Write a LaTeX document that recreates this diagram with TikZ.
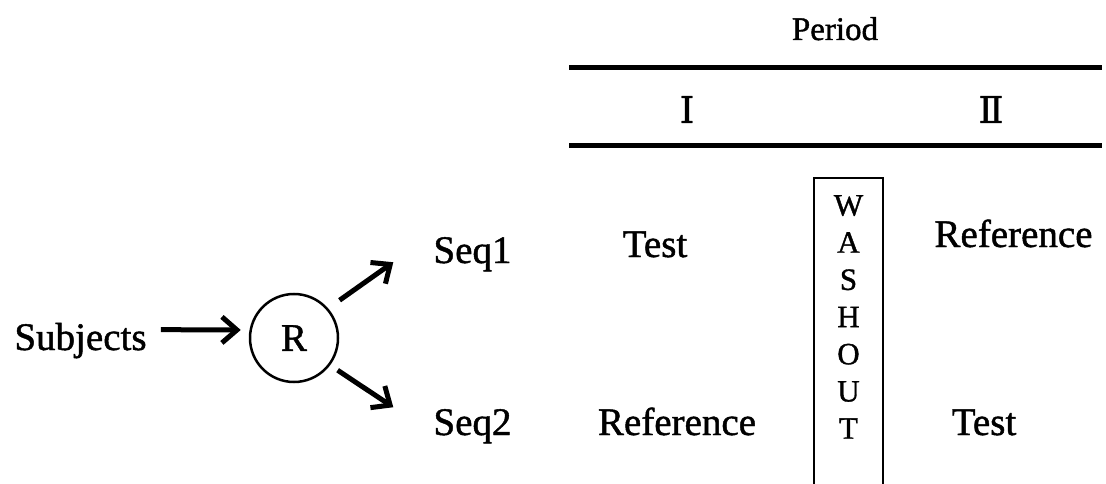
\documentclass[tikz,border=0pt]{standalone}
\usepackage{fontspec}
\setmainfont[FakeBold=1.2]{Liberation Serif}
\newfontfamily\numfont[FakeBold=1.0]{DejaVu Serif}
\usetikzlibrary{arrows.meta}
\begin{document}
\begin{tikzpicture}[x=1pt,y=-1pt,
  lbl/.style={inner sep=0pt, anchor=base, font=\fontsize{39}{39}\selectfont},
  wl/.style={inner sep=0pt, anchor=base, font=\fontsize{31}{31}\selectfont},
  hdr/.style={inner sep=0pt, anchor=base, font=\fontsize{33}{33}\selectfont},
  rn/.style={inner sep=0pt, anchor=base, font=\numfont\fontsize{37}{37}\selectfont},
  arr/.style={line width=5pt, -{Straight Barb[length=15pt,width=26pt]}},
  rulebar/.style={line width=5pt},
  washbox/.style={line width=2.5pt},
]
\clip (0,0) rectangle (1106,484);
% header
\node[hdr] (period) at (835,40) {Period};
\coordinate (r1a) at (569,67.5);
\coordinate (r1b) at (1102,67.5);
\coordinate (r2a) at (569,145.5);
\coordinate (r2b) at (1102,145.5);
\draw[rulebar] (r1a) -- (r1b);
\draw[rulebar] (r2a) -- (r2b);
\node[rn] (p1) at (687,123) {Ⅰ};
\node[rn] (p2) at (991,123) {Ⅱ};
% left part
\node[lbl] (subj) at (80.5,350) {Subjects};
\node[draw, circle, line width=2.5pt, minimum size=88pt, inner sep=0pt,
      font=\fontsize{39}{39}\selectfont] (R) at (294,338) {R};
\node[lbl] (seq1) at (472.5,263) {Seq1};
\node[lbl] (seq2) at (472.5,435) {Seq2};
\draw[arr, shorten <=14pt, shorten >=8pt] ([yshift=11pt]subj.east) -- ([yshift=8pt]R.west);
\draw[arr, shorten <=14pt] (R.41) -- ([xshift=-40pt,yshift=-8pt]seq1.west);
\draw[arr, shorten <=9pt] (R.-37) -- ([xshift=-40pt,yshift=19pt]seq2.west);
% table body
\node[lbl] (t1) at (655,257) {Test};
\node[lbl] (ref1) at (1013.5,247) {Reference};
\node[lbl] (ref2) at (677,435) {Reference};
\node[lbl] (t2) at (984,435) {Test};
% washout
\draw[washbox] (814,495) |- (883,178) -- (883,495);
\foreach \l [count=\i from 0] in {W,A,S,H,O,U,T}
  \node[wl] (w\i) at (848.5,215.5+37.2*\i) {\l};
\end{tikzpicture}
\end{document}
